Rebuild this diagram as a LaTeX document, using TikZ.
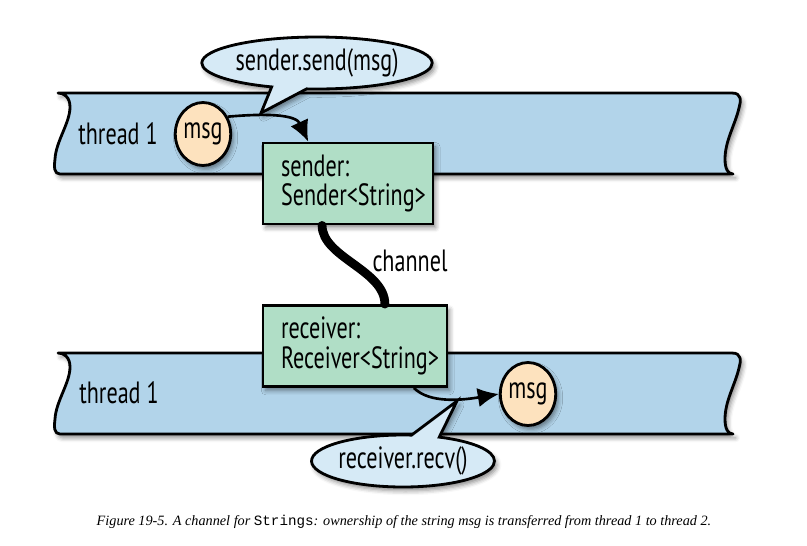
\documentclass[tikz,border=0pt]{standalone}
\usepackage{fontspec}
\setmainfont{Liberation Serif}
\newfontfamily\condsans[FakeStretch=0.72]{PT Sans}
\newfontfamily\capmono{Liberation Mono}
\usepackage{tikz}
\usetikzlibrary{shapes.geometric, shapes.callouts, arrows.meta, calc, shadows.blur}
\definecolor{ThreadBlue}{RGB}{178,212,234}
\definecolor{BoxGreen}{RGB}{176,222,198}
\definecolor{MsgPeach}{RGB}{253,226,190}
\definecolor{CallBlue}{RGB}{214,234,246}

\tikzset{
  softshadow/.style={blur shadow={shadow xshift=1.5pt, shadow yshift=-2.2pt,
                     shadow blur radius=2.5pt, shadow opacity=45}},
  band/.style={draw=black, line width=1.6pt, fill=ThreadBlue, softshadow, line join=round},
  label/.style={font=\condsans\fontsize{17.5}{17}\selectfont},
  endbox/.style={label, draw=black, line width=1.6pt, fill=BoxGreen, softshadow,
                 align=left, inner xsep=0.36cm, minimum height=1.62cm},
  msgdot/.style={label, ellipse, draw=black, line width=1.6pt, fill=MsgPeach, softshadow,
                 inner sep=0pt, minimum width=1.06cm, minimum height=1.26cm},
  callbubble/.style={label, ellipse callout, draw=black, line width=1.6pt, fill=CallBlue,
                     softshadow, inner sep=0pt, callout pointer arc=18},
  flow/.style={line width=1.5pt, -{Latex[length=12pt,width=11pt]}},
}

\begin{document}
\begin{tikzpicture}[x=0.02cm, y=-0.02cm]
\useasboundingbox (0,0) rectangle (807,545);

% ---- threads ----
\foreach \t in {93,353}{
  \begin{scope}[shift={(0,\t)}]
    \path[band] (58,0) -- (732,0) .. controls (742,0) and (741,8) .. (739,15)
      .. controls (735,32) and (725,48) .. (725,66) .. controls (725,76) and (728,81) .. (733,81)
      -- (60,81) .. controls (54,81) and (54,74) .. (55,66)
      .. controls (56,48) and (70,30) .. (70,14) .. controls (70,4) and (64,0) .. (58,0) -- cycle;
  \end{scope}
}
\node[label] (thrtop) at (118,134) {thread 1};
\node[label] (thrbot) at (119,393) {thread 1};

% ---- sender side ----
\node[callbubble, minimum width=3.6cm, minimum height=1.04cm,
      callout absolute pointer={(261,113)}] (sendcall) at (317,63) {sender.send(msg)};
\node[msgdot] (tmsg) at (203,134) {msg};
\node[endbox, text width=2.68cm] (sender) at (348,183.5) {sender:\\Sender<String>};
\draw[flow] (tmsg.35) .. controls +(45,-4) and +(-12,-26) .. ($(sender.north west)!0.27!(sender.north east)$);

% ---- channel ----
\node[endbox, text width=2.96cm] (receiver) at (355,346) {receiver:\\Receiver<String>};
\draw[line width=5pt, line cap=round] ($(sender.south west)!0.35!(sender.south east)$)
  .. controls +(0,32) and +(0,-34) .. ($(receiver.north west)!0.66!(receiver.north east)$);
\node[label] (chan) at (410,261) {channel};

% ---- receiver side ----
\node[callbubble, minimum width=3.56cm, minimum height=1.04cm,
      callout absolute pointer={(457,401)}] (recvcall) at (403,461) {receiver.recv()};
\node[msgdot] (bmsg) at (528,394) {msg};
\draw[flow] ($(receiver.south west)!0.815!(receiver.south east)$)
  .. controls +(16,16) and +(-36,6) .. (bmsg.west);

% ---- caption ----
\node[font=\fontsize{8.1}{10}\selectfont\itshape] (caption) at (404,522)
  {Figure 19-5. A channel for {\capmono\upshape Strings}: ownership of the string msg is transferred from thread 1 to thread 2.};
\end{tikzpicture}
\end{document}
